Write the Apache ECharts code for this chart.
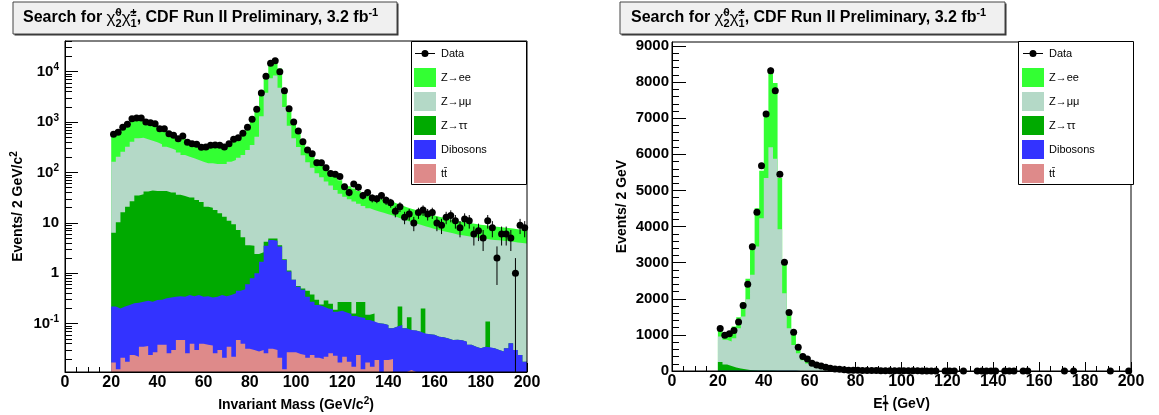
<!DOCTYPE html>
<html lang="en">
<head>
  <meta charset="UTF-8">
  <script src="https://cdn.jsdelivr.net/npm/echarts@6.0.0/dist/echarts.min.js"></script>
</head>
<body style="margin:0;background:#fff;">
  <div id="cdfChart" style="width: 1159px;height:415px;"></div>

  <script type="text/javascript">
    var FONT = "'Liberation Sans', Arial, Helvetica, sans-serif";

    // 2 GeV bins from 20 to 200 GeV, same binning in both panels
    var binEdges = [];
    for (var e = 20; e <= 200; e += 2) binEdges.push(e);
    var binCenters = binEdges.slice(0, -1).map(function (x) { return x + 1; });

    // ---- left panel: invariant mass (log y) ----
    // data counts per bin
    var massData = [573, 628, 789, 904, 1167, 1206, 1206, 1005, 973, 930,
      740, 740, 589, 547, 469, 530, 397, 373, 362, 316,
      320, 347, 351, 347, 320, 373, 456, 490, 600, 789,
      1136, 1795, 3780, 8100, 14680, 16520, 10000, 4200, 1845, 1005,
      666, 408, 279, 236, 156, 156, 124, 95, 92, 83,
      52, 40, 59, 51, 35, 40, 31, 30, 35, 28,
      25, 17, 21, 13, 15, 10, 16, 18, 15, 16,
      10, 9, 13, 14, 11, 8, 12, 11, 6, 7,
      5, 11, 8, 2, 6, 6, 5, 1, 9, 8];
    // tops of the stacked histograms (each layer includes the ones below it)
    var massZee = [560, 620, 770, 900, 1080, 1150, 1170, 1090, 1010, 920,
      830, 740, 650, 580, 520, 470, 430, 395, 365, 340,
      325, 320, 325, 335, 345, 370, 420, 480, 580, 770,
      1100, 1900, 3900, 8800, 15100, 18000, 11500, 4600, 1750, 1000,
      640, 430, 310, 235, 180, 150, 122, 102, 82, 70,
      60, 53, 48, 43, 39, 36, 33, 31, 29, 27.5,
      26, 24, 22, 20.5, 19, 18, 17, 16, 15, 14,
      13.3, 12.6, 12, 11.4, 10.9, 10.5, 10.1, 9.8, 9.5, 9.2,
      9, 8.7, 8.5, 8.3, 8.1, 7.9, 7.7, 7.5, 7.3, 7.1];
    var massZmm = [164, 206, 259, 325, 408, 477, 490, 456, 428, 397,
      363, 325, 302, 280, 248, 222, 206, 191, 177, 164,
      152, 152, 147, 147, 147, 164, 177, 196, 222, 280,
      351, 513, 1300, 3800, 7400, 8400, 4800, 2000, 850, 480,
      320, 220, 160, 124, 96, 80, 66, 55, 45, 38,
      33, 29.5, 26.5, 24, 21.5, 19.5, 18, 16.8, 15.8, 14.9,
      14, 13, 12, 11.1, 10.3, 9.7, 9.2, 8.6, 8.1, 7.6,
      7.2, 6.8, 6.5, 6.2, 5.9, 5.7, 5.5, 5.3, 5.1, 5,
      4.9, 4.7, 4.6, 4.5, 4.4, 4.3, 4.2, 4.1, 4, 3.9];
    var massZtt = [6.4, 10.3, 16.2, 21, 27, 35, 37, 42, 44, 43,
      43, 43, 40, 40, 36, 34, 32, 32, 28.5, 26,
      21, 20, 18, 15.5, 13.3, 11, 9.4, 7.2, 5.2, 3.6,
      3.5, 2.4, 2.6, 4.2, 4.9, 4.9, 3.6, 1.9, 1.13, 0.74,
      0.56, 0.5, 0.45, 0.38, 0.3, 0.24, 0.29, 0.25, 0.19, 0.27,
      0.27, 0.27, 0.16, 0.27, 0.27, 0.15, 0.16, 0.102, 0.1, 0.094,
      0.081, 0.088, 0.22, 0.081, 0.134, 0.073, 0.0695, 0.2, 0.062, 0.06,
      0.055, 0.054, 0.051, 0.0475, 0.048, 0.047, 0.044, 0.038, 0.035, 0.0325,
      0.035, 0.11, 0.0325, 0.03, 0.028, 0.0325, 0.041, 0.03, 0.024, 0.0176];
    var massDiboson = [0.218, 0.2, 0.218, 0.235, 0.254, 0.26, 0.273, 0.285, 0.273, 0.295,
      0.3, 0.319, 0.33, 0.344, 0.35, 0.344, 0.371, 0.35, 0.371, 0.344,
      0.35, 0.33, 0.344, 0.371, 0.35, 0.371, 0.4, 0.45, 0.48, 0.605,
      0.8, 1.0, 1.7, 3.5, 4.6, 4.4, 3.4, 1.84, 1.08, 0.74,
      0.54, 0.47, 0.344, 0.273, 0.235, 0.218, 0.2, 0.193, 0.173, 0.18,
      0.166, 0.156, 0.142, 0.134, 0.13, 0.118, 0.11, 0.102, 0.1, 0.094,
      0.081, 0.088, 0.094, 0.081, 0.075, 0.073, 0.0695, 0.064, 0.062, 0.06,
      0.055, 0.054, 0.051, 0.0475, 0.048, 0.047, 0.044, 0.038, 0.035, 0.0325,
      0.035, 0.034, 0.0325, 0.03, 0.028, 0.0325, 0.041, 0.03, 0.024, 0.0176];
    var massTtbar = [0.017, 0.0125, 0.021, 0.0176, 0.024, 0.022, 0.035, 0.036, 0.024, 0.027,
      0.038, 0.038, 0.026, 0.03, 0.0475, 0.0475, 0.026, 0.04, 0.03, 0.04,
      0.038, 0.037, 0.026, 0.03, 0.021, 0.035, 0.022, 0.0475, 0.04, 0.032,
      0.03, 0.028, 0.03, 0.026, 0.032, 0.03, 0.021, 0.0125, 0.027, 0.027,
      0.025, 0.024, 0.021, 0.024, 0.021, 0.02, 0.022, 0.026, 0.023, 0.017,
      0.022, 0.0176, 0.014, 0.024, 0.0125, 0.017, 0.014, 0.019, 0, 0.019,
      0.02, 0, 0, 0, 0.012, 0, 0, 0, 0, 0,
      0, 0, 0, 0, 0, 0, 0, 0, 0, 0,
      0, 0, 0, 0, 0, 0, 0, 0, 0, 0];

    // ---- right panel: leading lepton ET (linear y) ----
    var etData = [1175, 991, 1028, 1119, 1360, 1812, 2404, 3438, 4399, 5681,
      7113, 8313, 7759, 5451, 3014, 1618, 1075, 659, 399, 335,
      216, 169, 141, 105, 78, 55, 45, 33, 24, 22,
      18, 16, 14, 12, 11, 9, 8, 7, 7, 6,
      5, 5, 4, 4, 3, 3, 2, 2, 0, 2,
      1, 1, 0, 1, 0, 0, 1, 2, 1, 1,
      1, 0, 1, 1, 1, 0, 1, 1, 0, 0,
      0, 0, 0, 0, 0, 1, 0, 1, 0, 0,
      0, 0, 0, 0, 0, 1, 0, 0, 0, 1];
    var etZee = [1231, 1064, 1028, 1231, 1490, 1895, 2551, 3465, 4510, 5543,
      7047, 8249, 7972, 5341, 3003, 1673, 1091, 723, 440, 300,
      215, 165, 125, 95, 72, 56, 44, 35, 28, 23,
      19, 16, 13.5, 11.5, 10, 8.7, 7.6, 6.7, 5.9, 5.2,
      4.6, 4.1, 3.7, 3.3, 3, 2.7, 2.4, 2.2, 2, 1.8,
      1.7, 1.6, 1.5, 1.4, 1.3, 1.2, 1.1, 1, 1, 0.9,
      0.9, 0.8, 0.8, 0.7, 0.7, 0.6, 0.6, 0.6, 0.5, 0.5,
      0.5, 0.5, 0.4, 0.4, 0.4, 0.4, 0.4, 0.3, 0.3, 0.3,
      0.3, 0.3, 0.3, 0.3, 0.2, 0.2, 0.2, 0.2, 0.2, 0.2];
    var etZmm = [953, 862, 815, 909, 1186, 1507, 1989, 2662, 3446, 4233,
      5341, 6199, 5875, 3928, 2155, 1186, 723, 493, 300, 205,
      148, 114, 86, 65, 50, 39, 31, 24, 19.5, 16,
      13, 11, 9.4, 8, 7, 6, 5.3, 4.7, 4.1, 3.6,
      3.2, 2.9, 2.6, 2.3, 2.1, 1.9, 1.7, 1.5, 1.4, 1.3,
      1.2, 1.1, 1, 0.9, 0.9, 0.8, 0.8, 0.7, 0.7, 0.6,
      0.6, 0.6, 0.5, 0.5, 0.5, 0.4, 0.4, 0.4, 0.4, 0.3,
      0.3, 0.3, 0.3, 0.3, 0.3, 0.2, 0.2, 0.2, 0.2, 0.2,
      0.2, 0.2, 0.2, 0.2, 0.1, 0.1, 0.1, 0.1, 0.1, 0.1];
    var etZtt = [250, 180, 140, 100, 70, 45, 30, 20, 14, 12,
      11, 11, 10, 9, 7, 6, 4.5, 3, 2.2, 2.2,
      1.8, 1.5, 1.2, 1, 0.8, 0.6, 0.5, 0.4, 0.4, 0.3,
      0, 0, 0, 0, 0, 0, 0, 0, 0, 0,
      0, 0, 0, 0, 0, 0, 0, 0, 0, 0,
      0, 0, 0, 0, 0, 0, 0, 0, 0, 0,
      0, 0, 0, 0, 0, 0, 0, 0, 0, 0,
      0, 0, 0, 0, 0, 0, 0, 0, 0, 0,
      0, 0, 0, 0, 0, 0, 0, 0, 0, 0];
    var etDiboson = [4, 4, 5, 5, 6, 7, 8, 9, 10, 10,
      10, 10, 9, 8, 6, 5, 4, 3, 2, 2,
      1.5, 1.2, 1, 0.8, 0.6, 0.5, 0.4, 0.3, 0.3, 0.2,
      0, 0, 0, 0, 0, 0, 0, 0, 0, 0,
      0, 0, 0, 0, 0, 0, 0, 0, 0, 0,
      0, 0, 0, 0, 0, 0, 0, 0, 0, 0,
      0, 0, 0, 0, 0, 0, 0, 0, 0, 0,
      0, 0, 0, 0, 0, 0, 0, 0, 0, 0,
      0, 0, 0, 0, 0, 0, 0, 0, 0, 0];
    var etTtbar = [1, 1, 1, 1, 1, 1.2, 1.2, 1.2, 1.3, 1.3,
      1.3, 1.3, 1.2, 1.2, 1.1, 1, 1, 0.9, 0.8, 0.8,
      0.7, 0.6, 0.5, 0.5, 0.4, 0.3, 0.3, 0.2, 0.2, 0.1,
      0, 0, 0, 0, 0, 0, 0, 0, 0, 0,
      0, 0, 0, 0, 0, 0, 0, 0, 0, 0,
      0, 0, 0, 0, 0, 0, 0, 0, 0, 0,
      0, 0, 0, 0, 0, 0, 0, 0, 0, 0,
      0, 0, 0, 0, 0, 0, 0, 0, 0, 0,
      0, 0, 0, 0, 0, 0, 0, 0, 0, 0];

    // axis ranges and tick labels
    var massMin = 0.011, massMax = 40600;
    var massDecades = [0.1, 1, 10, 100, 1000, 10000];
    var etMax = 9110;
    var etLabels = [0, 1000, 2000, 3000, 4000, 5000, 6000, 7000, 8000, 9000];

    var legendNames = ['Data', 'Z→ee', 'Z→μμ', 'Z→ττ', 'Dibosons', 'tt̄'];
    var layerColors = ['#33ff33', '#b4d9c7', '#00aa00', '#3333ff', '#de8a8a'];

    // minor ticks: 2..9 per decade on the log axis, every 200 on the linear one
    var massMinorTicks = [];
    for (var p = -2; p <= 4; p++) {
      for (var k = 2; k <= 9; k++) {
        var t = k * Math.pow(10, p);
        if (t > massMin && t < massMax) massMinorTicks.push(t);
      }
    }
    var etMinorTicks = [];
    for (var m = 200; m < etMax; m += 200) {
      if (m % 1000 !== 0) etMinorTicks.push(m);
    }

    function stepData(values, floor) {
      // one point per bin edge, last bin closed at 200 GeV
      return binEdges.map(function (edge, i) {
        var v = values[Math.min(i, values.length - 1)];
        return [edge, v < floor ? floor : v];
      });
    }

    function histSeries(name, values, color, gridIdx, floor) {
      return {
        name: name, type: 'line', step: 'end',
        xAxisIndex: gridIdx, yAxisIndex: gridIdx * 2,
        data: stepData(values, floor),
        symbol: 'none', showSymbol: false, silent: true, clip: true,
        lineStyle: { width: 0 },
        itemStyle: { color: color },
        areaStyle: { color: color, opacity: 1, origin: floor },
        z: 2
      };
    }

    function errorSeries(values, gridIdx, floor) {
      var pts = [];
      values.forEach(function (v, i) {
        if (v > 0) {
          var s = Math.sqrt(v);
          pts.push([binCenters[i], Math.max(v - s, floor), v + s]);
        }
      });
      return {
        name: 'Data errors', type: 'custom',
        xAxisIndex: gridIdx, yAxisIndex: gridIdx * 2,
        data: pts, silent: true, clip: true, z: 3,
        encode: { x: 0, y: [1, 2] },
        renderItem: function (params, api) {
          var top = api.coord([api.value(0), api.value(2)]);
          var bot = api.coord([api.value(0), api.value(1)]);
          return {
            type: 'line',
            shape: { x1: top[0], y1: top[1], x2: bot[0], y2: bot[1] },
            style: { stroke: '#000', lineWidth: 1 }
          };
        }
      };
    }

    function dataSeries(values, gridIdx) {
      var pts = [];
      values.forEach(function (v, i) { if (v > 0) pts.push([binCenters[i], v]); });
      return {
        name: 'Data', type: 'scatter',
        xAxisIndex: gridIdx, yAxisIndex: gridIdx * 2,
        data: pts, symbol: 'circle', symbolSize: 7,
        itemStyle: { color: '#000', opacity: 1 }, z: 4
      };
    }

    function panelSeries(gridIdx, layers, data, floor) {
      var list = layers.map(function (vals, i) {
        return histSeries(legendNames[i + 1], vals, layerColors[i], gridIdx, floor);
      });
      list.push(errorSeries(data, gridIdx, floor));
      list.push(dataSeries(data, gridIdx));
      return list;
    }

    var supStyle = { fontFamily: FONT, fontSize: 10, fontWeight: 'bold', verticalAlign: 'top', lineHeight: 10 };
    var subStyle = { fontFamily: FONT, fontSize: 10, fontWeight: 'bold', verticalAlign: 'bottom', lineHeight: 10 };

    var titleRich = {
      chi: { fontFamily: FONT, fontSize: 17, fontWeight: 'normal', lineHeight: 22 },
      sup0: { fontFamily: FONT, fontSize: 11, fontWeight: 'bold', verticalAlign: 'top', lineHeight: 11, width: 0 },
      sub: { fontFamily: FONT, fontSize: 11, fontWeight: 'bold', verticalAlign: 'bottom', lineHeight: 11 },
      sup: { fontFamily: FONT, fontSize: 11, fontWeight: 'bold', verticalAlign: 'top', lineHeight: 11 }
    };
    var titleText = 'Search for {chi|χ̃}{sup0|0}{sub|2}{chi|χ̃}{sup0|±}{sub|1}, CDF Run II Preliminary, 3.2 fb{sup|-1}';

    function titleOpt(left) {
      return {
        text: titleText, left: left, top: 7, padding: 0, z: 20,
        textStyle: { fontFamily: FONT, fontSize: 16, fontWeight: 'bold', color: '#000', lineHeight: 22, rich: titleRich }
      };
    }

    var dataIcon = 'path://M0,0M22,19M1,9L21,9L21,10L1,10ZM14.5,9.5A3.5,3.5,0,1,1,7.5,9.5A3.5,3.5,0,1,1,14.5,9.5Z';

    function legendOpt(left) {
      return {
        left: left, top: 44, orient: 'vertical', padding: 0,
        itemWidth: 22, itemHeight: 19, itemGap: 5, z: 20, selectedMode: false,
        data: legendNames.map(function (n) { return { name: n, icon: n === 'Data' ? dataIcon : 'rect' }; }),
        textStyle: { fontFamily: FONT, fontSize: 11, color: '#000' }
      };
    }

    function boxGraphics(x, y, w, h, fill, z) {
      return [
        { type: 'rect', z: z, shape: { x: x + 1.5, y: y + 1.5, width: w, height: h }, style: { fill: '#333' } },
        { type: 'rect', z: z, shape: { x: x, y: y, width: w, height: h }, style: { fill: fill, stroke: '#444', lineWidth: 1 } }
      ];
    }

    var labelFont = { fontFamily: FONT, fontWeight: 'bold', color: '#000' };
    var nameFont = { fontFamily: FONT, fontSize: 14, fontWeight: 'bold', color: '#000', lineHeight: 18 };

    function xAxisOpt(gridIdx, name, rich) {
      return {
        type: 'value', gridIndex: gridIdx, min: 0, max: 200, interval: 20,
        axisLine: { show: true, onZero: false, lineStyle: { color: '#000', width: 1 } },
        axisTick: { show: true, inside: true, length: 9, lineStyle: { color: '#000' } },
        minorTick: { show: true, splitNumber: 4, length: 5, lineStyle: { color: '#000' } },
        splitLine: { show: false },
        axisLabel: Object.assign({ fontSize: 16, margin: 3 }, labelFont),
        name: name, nameLocation: 'middle', nameGap: 17,
        nameTextStyle: Object.assign({ rich: rich }, nameFont)
      };
    }

    function powLabel(v) {
      var e = Math.round(Math.log(v) / Math.LN10);
      if (e === 0) return '1';
      if (e === 1) return '10';
      return '10{sup|' + e + '}';
    }

    var option = {
      animation: false,
      backgroundColor: '#fff',
      title: [titleOpt(23), titleOpt(631)],
      legend: [legendOpt(414), legendOpt(1022)],
      graphic: [].concat(
        boxGraphics(13, 2, 384, 32, '#f0f0f0', 1),
        boxGraphics(620, 2, 385, 32, '#f0f0f0', 1),
        [
          { type: 'rect', z: 10, shape: { x: 411.5, y: 41.5, width: 115, height: 143 }, style: { fill: '#fff', stroke: '#000', lineWidth: 1 } },
          { type: 'rect', z: 10, shape: { x: 1018.5, y: 41.5, width: 115, height: 143 }, style: { fill: '#fff', stroke: '#000', lineWidth: 1 } }
        ]
      ),
      grid: [
        { left: 65, top: 41, width: 462, height: 331, show: true, z: 5, borderColor: '#000', borderWidth: 1, backgroundColor: 'transparent', outerBoundsMode: 'none' },
        { left: 672, top: 42, width: 459, height: 329, show: true, z: 5, borderColor: '#000', borderWidth: 1, backgroundColor: 'transparent', outerBoundsMode: 'none' }
      ],
      xAxis: [
        xAxisOpt(0, 'Invariant Mass (GeV/c{sup|2})', { sup: supStyle }),
        xAxisOpt(1, 'E{sup0|\u00a0\u00a01}{sub|T} (GeV)', {
          sup0: Object.assign({ width: 0 }, supStyle),
          sub: subStyle
        })
      ],
      yAxis: [
        {
          type: 'log', logBase: 10, gridIndex: 0, position: 'left', min: massMin, max: massMax,
          axisLine: { show: true, lineStyle: { color: '#000', width: 1 } },
          axisTick: { show: true, inside: true, length: 13, customValues: massDecades, lineStyle: { color: '#000' } },
          splitLine: { show: false },
          axisLabel: Object.assign({
            fontSize: 15, margin: 6, lineHeight: 18, customValues: massDecades, formatter: powLabel,
            rich: { sup: { fontFamily: FONT, fontSize: 10, fontWeight: 'bold', verticalAlign: 'top', lineHeight: 10 } }
          }, labelFont),
          name: 'Events/ 2 GeV/c{sup|2}', nameLocation: 'middle', nameRotate: 90, nameGap: 38,
          nameTextStyle: Object.assign({ rich: { sup: supStyle } }, nameFont)
        },
        {
          type: 'log', logBase: 10, gridIndex: 0, position: 'left', min: massMin, max: massMax,
          axisLine: { show: false }, axisLabel: { show: false }, splitLine: { show: false },
          axisTick: { show: true, inside: true, length: 7, customValues: massMinorTicks, lineStyle: { color: '#000' } }
        },
        {
          type: 'value', gridIndex: 1, position: 'left', min: 0, max: etMax, interval: 1000,
          axisLine: { show: true, lineStyle: { color: '#000', width: 1 } },
          axisTick: { show: true, inside: true, length: 14, customValues: etLabels, lineStyle: { color: '#000' } },
          splitLine: { show: false },
          axisLabel: Object.assign({
            fontSize: 15, margin: 3, customValues: etLabels,
            formatter: function (v) { return String(Math.round(v)); }
          }, labelFont),
          name: 'Events/ 2 GeV', nameLocation: 'middle', nameRotate: 90, nameGap: 41,
          nameTextStyle: nameFont
        },
        {
          type: 'value', gridIndex: 1, position: 'left', min: 0, max: etMax,
          axisLine: { show: false }, axisLabel: { show: false }, splitLine: { show: false },
          axisTick: { show: true, inside: true, length: 7, customValues: etMinorTicks, lineStyle: { color: '#000' } }
        }
      ],
      series: [].concat(
        panelSeries(0, [massZee, massZmm, massZtt, massDiboson, massTtbar], massData, massMin),
        panelSeries(1, [etZee, etZmm, etZtt, etDiboson, etTtbar], etData, 0)
      )
    };

    var chart = echarts.init(document.getElementById('cdfChart'));
    chart.setOption(option);
  </script>
</body>
</html>
